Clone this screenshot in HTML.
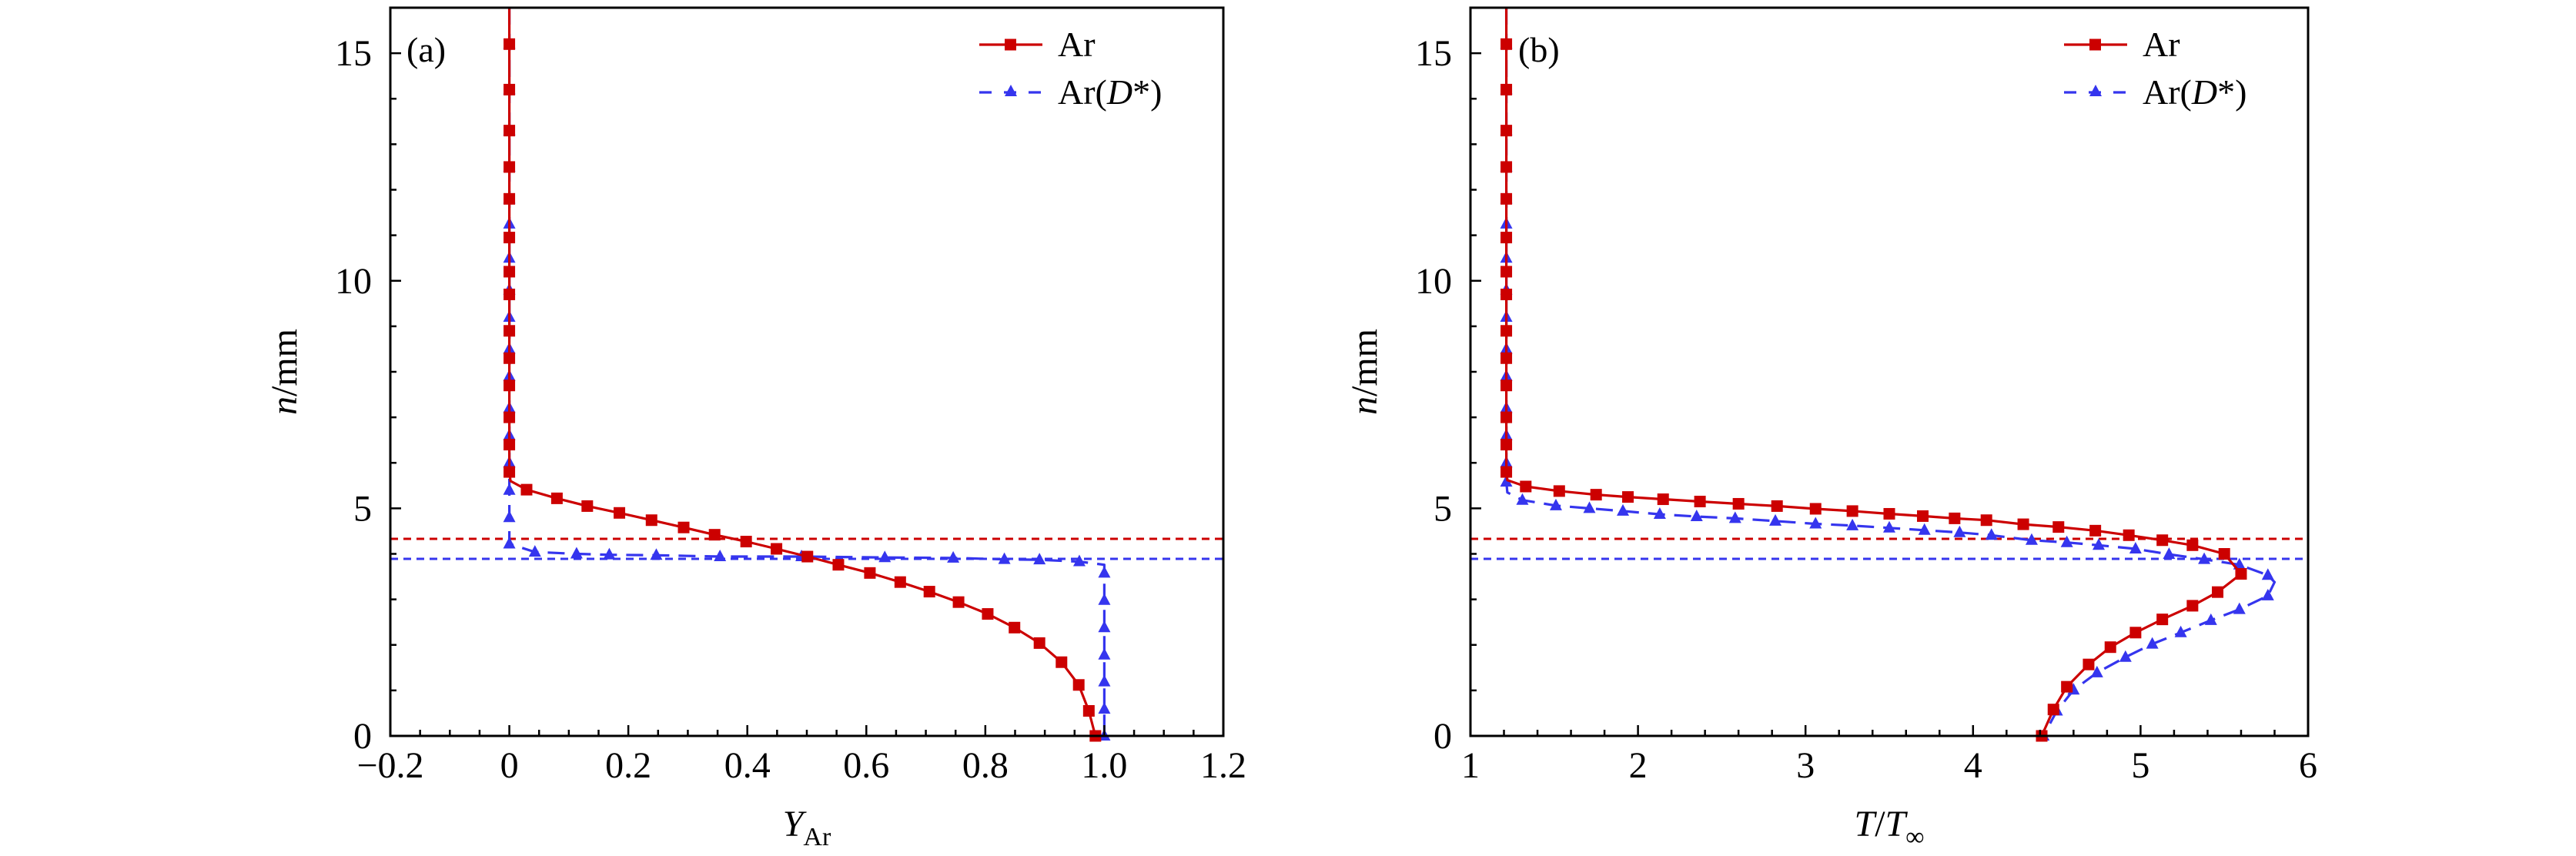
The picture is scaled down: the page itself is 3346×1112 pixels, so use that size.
<!DOCTYPE html>
<html><head><meta charset="utf-8"><style>
html,body{margin:0;padding:0;background:#fff;}
svg{display:block;}
text{font-family:"Liberation Serif",serif;fill:#000;}
</style></head><body>
<svg id="chart" width="3346" height="1112" viewBox="0 0 3346 1112" xmlns="http://www.w3.org/2000/svg"></svg>
<script>
// Panel (a) data: [Y_Ar, n]
const aArX=[0,0,0,0,0,0,0,0,0,0,0,0,0,0,0.002,0.029,0.08,0.131,0.185,0.239,0.293,0.345,0.398,0.449,0.501,0.553,0.606,0.657,0.706,0.755,0.804,0.849,0.891,0.928,0.957,0.974,0.985];
const aArN=[15.2,14.2,13.3,12.5,11.8,10.95,10.2,9.7,8.9,8.3,7.7,7.0,6.4,5.8,5.6,5.41,5.22,5.05,4.90,4.74,4.58,4.42,4.27,4.11,3.94,3.76,3.58,3.38,3.17,2.94,2.68,2.38,2.04,1.62,1.12,0.55,0];
const aDX=[0,0,0,0,0,0,0,0,0,0,0,0,0,0,0,0,0,0.043,0.113,0.168,0.247,0.354,0.491,0.631,0.746,0.832,0.891,0.958,1.0,1.0,1.0,1.0,1.0,1.0,1.0,1.0];
const aDN=[15.2,14.2,13.3,12.5,11.8,11.25,10.5,9.8,9.2,8.5,7.9,7.2,6.6,6.0,5.4,4.8,4.22,4.04,4.0,3.98,3.97,3.94,3.94,3.92,3.91,3.88,3.87,3.83,3.76,3.58,2.98,2.38,1.78,1.19,0.59,0];
const aDNoMark=[28];
// Panel (b) data: [T/Tinf, n]
const bArX=[1.214,1.214,1.214,1.214,1.214,1.214,1.214,1.214,1.214,1.214,1.214,1.214,1.214,1.214,1.22,1.33,1.53,1.75,1.94,2.15,2.37,2.60,2.83,3.06,3.28,3.50,3.70,3.89,4.08,4.30,4.51,4.73,4.93,5.13,5.31,5.50,5.60,5.46,5.31,5.13,4.97,4.82,4.69,4.56,4.48,4.41];
const bArN=[15.2,14.2,13.3,12.5,11.8,10.95,10.2,9.7,8.9,8.3,7.7,7.0,6.4,5.8,5.62,5.48,5.38,5.30,5.25,5.20,5.15,5.10,5.05,4.99,4.94,4.88,4.83,4.78,4.74,4.65,4.59,4.51,4.41,4.30,4.19,4.00,3.56,3.16,2.86,2.56,2.27,1.95,1.57,1.08,0.58,0];
const bArNoMark=[14];
const bDX=[1.214,1.214,1.214,1.214,1.214,1.214,1.214,1.214,1.214,1.214,1.214,1.214,1.214,1.214,1.214,1.22,1.31,1.51,1.71,1.91,2.13,2.35,2.58,2.82,3.06,3.28,3.50,3.71,3.92,4.11,4.35,4.56,4.75,4.97,5.17,5.38,5.59,5.76,5.80,5.76,5.59,5.42,5.24,5.07,4.91,4.74,4.60,4.50,4.42];
const bDN=[15.2,14.2,13.3,12.5,11.8,11.25,10.5,9.8,9.2,8.5,7.9,7.2,6.6,6.0,5.58,5.35,5.18,5.06,5.0,4.94,4.87,4.82,4.78,4.72,4.66,4.62,4.57,4.52,4.47,4.41,4.30,4.25,4.19,4.11,3.99,3.88,3.76,3.53,3.38,3.08,2.78,2.54,2.27,2.02,1.73,1.39,1.01,0.55,0];
const bDNoMark=[15,38];
const refRed=4.33, refBlue=3.89;
const aXTicks=[-0.2,0,0.2,0.4,0.6,0.8,1.0,1.2];
const aXLabels=["\u22120.2","0","0.2","0.4","0.6","0.8","1.0","1.2"];
const bXTicks=[1,2,3,4,5,6];
const bXLabels=["1","2","3","4","5","6"];
const yTicks=[0,5,10,15];

const NS="http://www.w3.org/2000/svg";
const svg=document.getElementById('chart');
const RED="#cc0000", BLUE="#3535ee";
function mk(tag,attrs,parent){const e=document.createElementNS(NS,tag);for(const k in attrs)e.setAttribute(k,attrs[k]);(parent||svg).appendChild(e);return e;}

function panel(cfg){
  const {L,R,T,B,xmin,xmax,ymax,id}=cfg;
  const g=mk('g',{});
  
  
  const sx=v=>L+(v-xmin)/(xmax-xmin)*(R-L);
  const sy=v=>B-v/ymax*(B-T);
  const r1=mk('line',{x1:L,x2:R,y1:sy(refRed),y2:sy(refRed),stroke:RED,'stroke-width':3,'stroke-dasharray':'10,7'},g);
  
  
  const r2=mk('line',{x1:L,x2:R,y1:sy(refBlue),y2:sy(refBlue),stroke:BLUE,'stroke-width':3,'stroke-dasharray':'10,7'},g);
  
  
  function series(xs,ns,color,dash,marker,noMark,name,topX){
    const sg=mk('g',{},g);
    
    
    let d='M'+sx(topX)+','+T;
    for(let i=0;i<xs.length;i++)d+=' L'+sx(xs[i]).toFixed(1)+','+sy(ns[i]).toFixed(1);
    const p=mk('path',{d:d,fill:'none',stroke:color,'stroke-width':3.2,'stroke-dasharray':dash||'none','stroke-linejoin':'round'},sg);
    
    
    for(let i=0;i<xs.length;i++){
      if(noMark.indexOf(i)>=0)continue;
      const x=sx(xs[i]),y=sy(ns[i]);
      let m;
      if(marker==='sq')m=mk('rect',{x:x-7.5,y:y-7.5,width:15,height:15,fill:color},sg);
      else m=mk('polygon',{points:`${x},${y-9} ${x-8},${y+6} ${x+8},${y+6}`,fill:color},sg);
      
      
    }
  }
  series(cfg.dX,cfg.dN,BLUE,'22,12','tri',cfg.dNo,'series-ar-dstar',cfg.dX[0]);
  series(cfg.arX,cfg.arN,RED,null,'sq',cfg.arNo,'series-ar',cfg.arX[0]);
  const box=mk('rect',{x:L,y:T,width:R-L,height:B-T,fill:'none',stroke:'#000','stroke-width':3},g);
  
  
  const step=cfg.minor;
  for(let v=xmin;v<=xmax+1e-9;v+=step){
    const isMaj=cfg.xt.some(t=>Math.abs(t-v)<1e-6);
    mk('line',{x1:sx(v),x2:sx(v),y1:B,y2:B-(isMaj?14:8),stroke:'#000','stroke-width':2.5},g);
  }
  cfg.xt.forEach((t,i)=>{
    const tx=mk('text',{x:sx(t),y:B+54,'font-size':48,'text-anchor':'middle'},g);
    tx.textContent=cfg.xl[i];
    
    
  });
  for(let v=0;v<=ymax;v+=1){
    const isMaj=v%5===0;
    mk('line',{x1:L,x2:L+(isMaj?14:8),y1:sy(v),y2:sy(v),stroke:'#000','stroke-width':2.5},g);
  }
  yTicks.forEach(t=>{
    const tx=mk('text',{x:L-24,y:sy(t)+16,'font-size':48,'text-anchor':'end'},g);
    tx.textContent=String(t);
    
    
  });
  const yt=mk('text',{x:0,y:0,'font-size':48,'text-anchor':'middle',transform:`translate(${L-122},${(T+B)/2}) rotate(-90)`},g);
  yt.innerHTML='<tspan font-style="italic">n</tspan>/mm';
  
  
  const xt=mk('text',{x:(L+R)/2,y:B+130,'font-size':48,'text-anchor':'middle'},g);
  xt.innerHTML=cfg.xtitle;
  
  
  const pl=mk('text',{x:cfg.plx,y:T+70,'font-size':46},g);
  pl.textContent='('+id+')';
  
  
  const lx=cfg.legX;
  const lg=mk('g',{},g);
  
  
  const e1=mk('g',{},lg);
  
  
  mk('line',{x1:lx,x2:lx+82,y1:58,y2:58,stroke:RED,'stroke-width':3.2},e1);
  mk('rect',{x:lx+33,y:50.5,width:15,height:15,fill:RED},e1);
  const t1=mk('text',{x:lx+102,y:73,'font-size':46},e1);t1.textContent='Ar';
  const e2=mk('g',{},lg);
  
  
  mk('line',{x1:lx,x2:lx+82,y1:120,y2:120,stroke:BLUE,'stroke-width':3.2,'stroke-dasharray':'16,16'},e2);
  mk('polygon',{points:`${lx+41},${110} ${lx+33},${125} ${lx+49},${125}`,fill:BLUE},e2);
  const t2=mk('text',{x:lx+102,y:135,'font-size':46},e2);
  t2.innerHTML='Ar(<tspan font-style="italic">D</tspan>*)';
}
panel({id:'a',L:507,R:1589,T:10,B:956,xmin:-0.2,xmax:1.2,ymax:16,minor:0.05,xt:aXTicks,xl:aXLabels,
  arX:aArX,arN:aArN,arNo:[14],dX:aDX,dN:aDN,dNo:aDNoMark,plx:528,legX:1272,
  xtitle:'<tspan font-style="italic">Y</tspan><tspan font-size="34" dy="12">Ar</tspan>'});
panel({id:'b',L:1910,R:2998,T:10,B:956,xmin:1,xmax:6,ymax:16,minor:0.2,xt:bXTicks,xl:bXLabels,
  arX:bArX,arN:bArN,arNo:bArNoMark,dX:bDX,dN:bDN,dNo:bDNoMark,plx:1972,legX:2681,
  xtitle:'<tspan font-style="italic">T</tspan>/<tspan font-style="italic">T</tspan><tspan font-size="34" dy="12">∞</tspan>'});
</script>
</body></html>
